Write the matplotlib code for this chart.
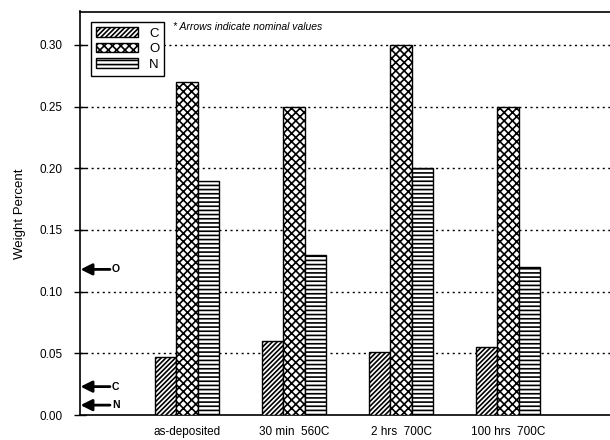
import matplotlib
matplotlib.use("Agg")
import matplotlib.pyplot as plt
from matplotlib.patches import Patch
import numpy as np

plt.rcParams['font.family'] = ['Liberation Sans', 'DejaVu Sans']
plt.rcParams['hatch.linewidth'] = 1.2

categories = ['as-deposited', '30 min  560C', '2 hrs  700C', '100 hrs  700C']
series = ['C', 'O', 'N']
C_vals = [0.047, 0.060, 0.051, 0.055]
O_vals = [0.27, 0.25, 0.30, 0.25]
N_vals = [0.19, 0.13, 0.20, 0.12]
nominal_labels = ['O', 'C', 'N']
nominal_vals = [0.118, 0.023, 0.008]
yticks = [0.00, 0.05, 0.10, 0.15, 0.20, 0.25, 0.30]

hatches = ['///////', 'xxxx', '----']

fig = plt.figure(figsize=(6.1, 4.4), dpi=100)
ax = fig.add_axes([80/610, 25/440, 1 - 80/610, 403.5/440])

x = np.arange(1, len(categories) + 1)
w = 0.2
for k, (vals, h) in enumerate(zip([C_vals, O_vals, N_vals], hatches)):
    ax.bar(x + (k - 1) * w, vals, width=w, facecolor='white', edgecolor='black',
           hatch=h, linewidth=1.0, zorder=3)

ax.set_xlim(0, 4.953)
ax.set_ylim(0, 0.327)
ax.set_yticks(yticks)
ax.set_yticklabels([f'{v:.2f}' for v in yticks], fontsize=8.5)
ax.set_xticks(x)
ax.set_xticklabels(categories, fontsize=8.5)
ax.tick_params(axis='x', length=0, pad=8)
ax.tick_params(axis='y', direction='inout', length=9, width=1, pad=8)
ax.set_ylabel('Weight Percent', fontsize=9.5, labelpad=10)

for v in yticks[1:]:
    ax.axhline(v, color='black', lw=1.0, ls=(0, (1.5, 2.5)), zorder=1)

for s in ['left', 'bottom', 'top']:
    ax.spines[s].set_linewidth(1.2)
ax.spines['right'].set_visible(False)

for lab, v in zip(nominal_labels, nominal_vals):
    ax.annotate('', xy=(0.005, v), xytext=(0.28, v),
                arrowprops=dict(arrowstyle='-|>', color='black', lw=2.0,
                                mutation_scale=17, shrinkA=0, shrinkB=0), zorder=4)
    ax.text(0.30, v, lab, fontsize=7.5, fontweight='bold', va='center', ha='left')

handles = [Patch(facecolor='white', edgecolor='black', hatch=h, label=s)
           for h, s in zip(hatches, series)]
leg = ax.legend(handles=handles, loc='upper left', bbox_to_anchor=(0.008, 0.99),
                fontsize=9.5, handlelength=3.2, handleheight=0.7, labelspacing=0.25,
                handletextpad=0.8, borderpad=0.4, fancybox=False, framealpha=1,
                edgecolor='black')
leg.get_frame().set_linewidth(1.0)

ax.text(0.176, 0.962, '* Arrows indicate nominal values', transform=ax.transAxes,
        fontsize=7.5, style='italic', va='center', ha='left')

fig.savefig('out.png', dpi=100)
